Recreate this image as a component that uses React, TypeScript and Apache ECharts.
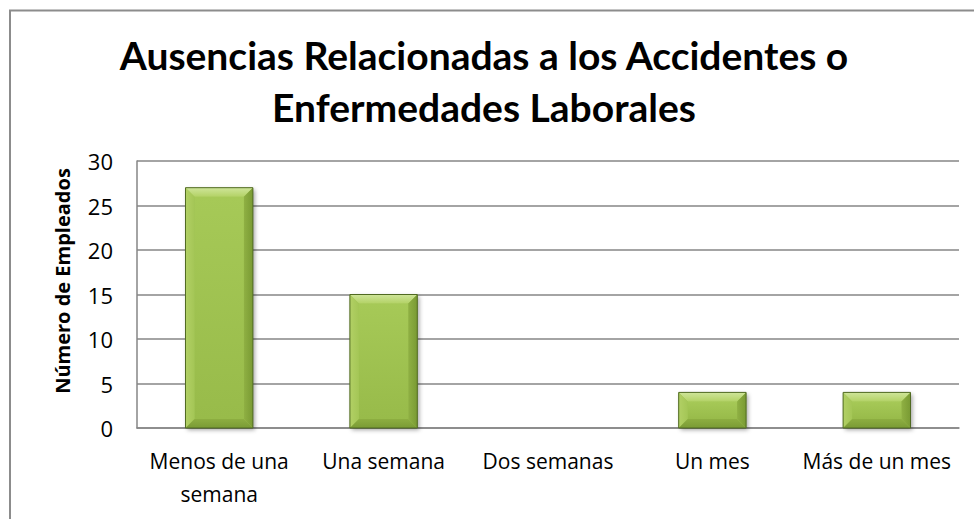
import React, { useEffect, useRef } from "react";
import * as echarts from "echarts";

const categories = ["Menos de una\nsemana", "Una semana", "Dos semanas", "Un mes", "Más de un mes"];
const values = [27, 15, 0, 4, 4];
const titleText = "Ausencias Relacionadas a los Accidentes o\nEnfermedades Laborales";
const yAxisName = "Número de Empleados";

const FONT = "Lato, 'Open Sans', sans-serif";
const BODY_FONT = "'Open Sans', Lato, sans-serif";

export default function App() {
  const ref = useRef<HTMLDivElement>(null);
  useEffect(() => {
    if (!ref.current) return;
    const chart = echarts.init(ref.current, undefined, { renderer: "svg" });
    chart.setOption({
      animation: false,
      backgroundColor: "#ffffff",
      title: {
        text: titleText,
        left: 479,
        top: 24,
        textAlign: "center",
        textStyle: {
          fontFamily: FONT,
          fontWeight: "bold",
          fontSize: 39,
          lineHeight: 52,
          color: "#000000",
        },
      },
      graphic: [
        {
          type: "rect",
          shape: { x: 10, y: 10.5, width: 1100, height: 700 },
          style: { fill: "none", stroke: "#8c8c8c", lineWidth: 2 },
          silent: true,
          z: -1,
        },
        {
          type: "text",
          x: 62,
          y: 281,
          rotation: Math.PI / 2,
          style: {
            text: yAxisName,
            fill: "#000000",
            font: "bold 20px " + BODY_FONT,
            textAlign: "center",
            textVerticalAlign: "middle",
          },
        },
      ],
      grid: { left: 137, right: 15, top: 161, bottom: 91 },
      xAxis: {
        type: "category",
        data: categories,
        axisLine: { show: true, lineStyle: { color: "#868686", width: 1.5 } },
        axisTick: { show: false },
        axisLabel: {
          interval: 0,
          margin: 16,
          fontFamily: BODY_FONT,
          fontSize: 21,
          lineHeight: 33,
          color: "#000000",
        },
      },
      yAxis: {
        type: "value",
        min: 0,
        max: 30,
        interval: 5,
        axisLine: { show: true, lineStyle: { color: "#868686", width: 1.5 } },
        axisTick: { show: false },
        splitLine: { show: true, lineStyle: { color: "#868686", width: 1.5 } },
        axisLabel: {
          margin: 24,
          fontFamily: BODY_FONT,
          fontSize: 22,
          color: "#000000",
        },
      },
      series: [
        {
          type: "custom",
          data: values.map((v, i) => [i, v]),
          encode: { x: 0, y: 1 },
          renderItem: (params: any, api: any) => {
            const x = api.value(0);
            const v = api.value(1);
            const top = api.coord([x, v]);
            const base = api.coord([x, 0]);
            const w = api.size([1, 0])[0] * 0.41;
            const l = top[0] - w / 2;
            const r = top[0] + w / 2;
            const t = top[1];
            const btm = base[1];
            const h = btm - t;
            if (h <= 0.5) return null;
            const b = Math.min(9, h / 2, w / 4);
            return {
              type: "group",
              children: [
                {
                  type: "rect",
                  shape: { x: l, y: t, width: w, height: h },
                  style: {
                    fill: "#9fc252",
                    shadowBlur: 4,
                    shadowColor: "rgba(0,0,0,0.35)",
                    shadowOffsetX: 2,
                    shadowOffsetY: 2,
                  },
                },
                {
                  type: "rect",
                  shape: { x: l + b, y: t + b, width: w - 2 * b, height: Math.max(0, h - 2 * b) },
                  style: {
                    fill: new echarts.graphic.LinearGradient(0, 0, 0, 1, [
                      { offset: 0, color: "#a6c957" },
                      { offset: 1, color: "#98bb4a" },
                    ]),
                  },
                },
                {
                  type: "polygon",
                  shape: { points: [[l, t], [r, t], [r - b, t + b], [l + b, t + b]] },
                  style: {
                    fill: new echarts.graphic.LinearGradient(0, 0, 0, 1, [
                      { offset: 0, color: "#cfe59a" },
                      { offset: 1, color: "#b3d266" },
                    ]),
                  },
                },
                {
                  type: "polygon",
                  shape: { points: [[l, t], [l + b, t + b], [l + b, btm - b], [l, btm]] },
                  style: {
                    fill: new echarts.graphic.LinearGradient(0, 0, 1, 0, [
                      { offset: 0, color: "#b2d065" },
                      { offset: 1, color: "#a4c656" },
                    ]),
                  },
                },
                {
                  type: "polygon",
                  shape: { points: [[r, t], [r - b, t + b], [r - b, btm - b], [r, btm]] },
                  style: {
                    fill: new echarts.graphic.LinearGradient(0, 0, 1, 0, [
                      { offset: 0, color: "#8fb043" },
                      { offset: 1, color: "#799a33" },
                    ]),
                  },
                },
                {
                  type: "polygon",
                  shape: { points: [[l, btm], [l + b, btm - b], [r - b, btm - b], [r, btm]] },
                  style: {
                    fill: new echarts.graphic.LinearGradient(0, 0, 0, 1, [
                      { offset: 0, color: "#8dae41" },
                      { offset: 1, color: "#7a9b35" },
                    ]),
                  },
                },
                {
                  type: "rect",
                  shape: { x: l, y: t, width: w, height: h },
                  style: { fill: "none", stroke: "#506a22", lineWidth: 1 },
                },
              ],
            };
          },
        },
      ],
    });
    return () => chart.dispose();
  }, []);
  return (
    <div
      ref={ref}
      style={{ position: "fixed", left: 0, top: 0, width: 974, height: 519 }}
    />
  );
}
